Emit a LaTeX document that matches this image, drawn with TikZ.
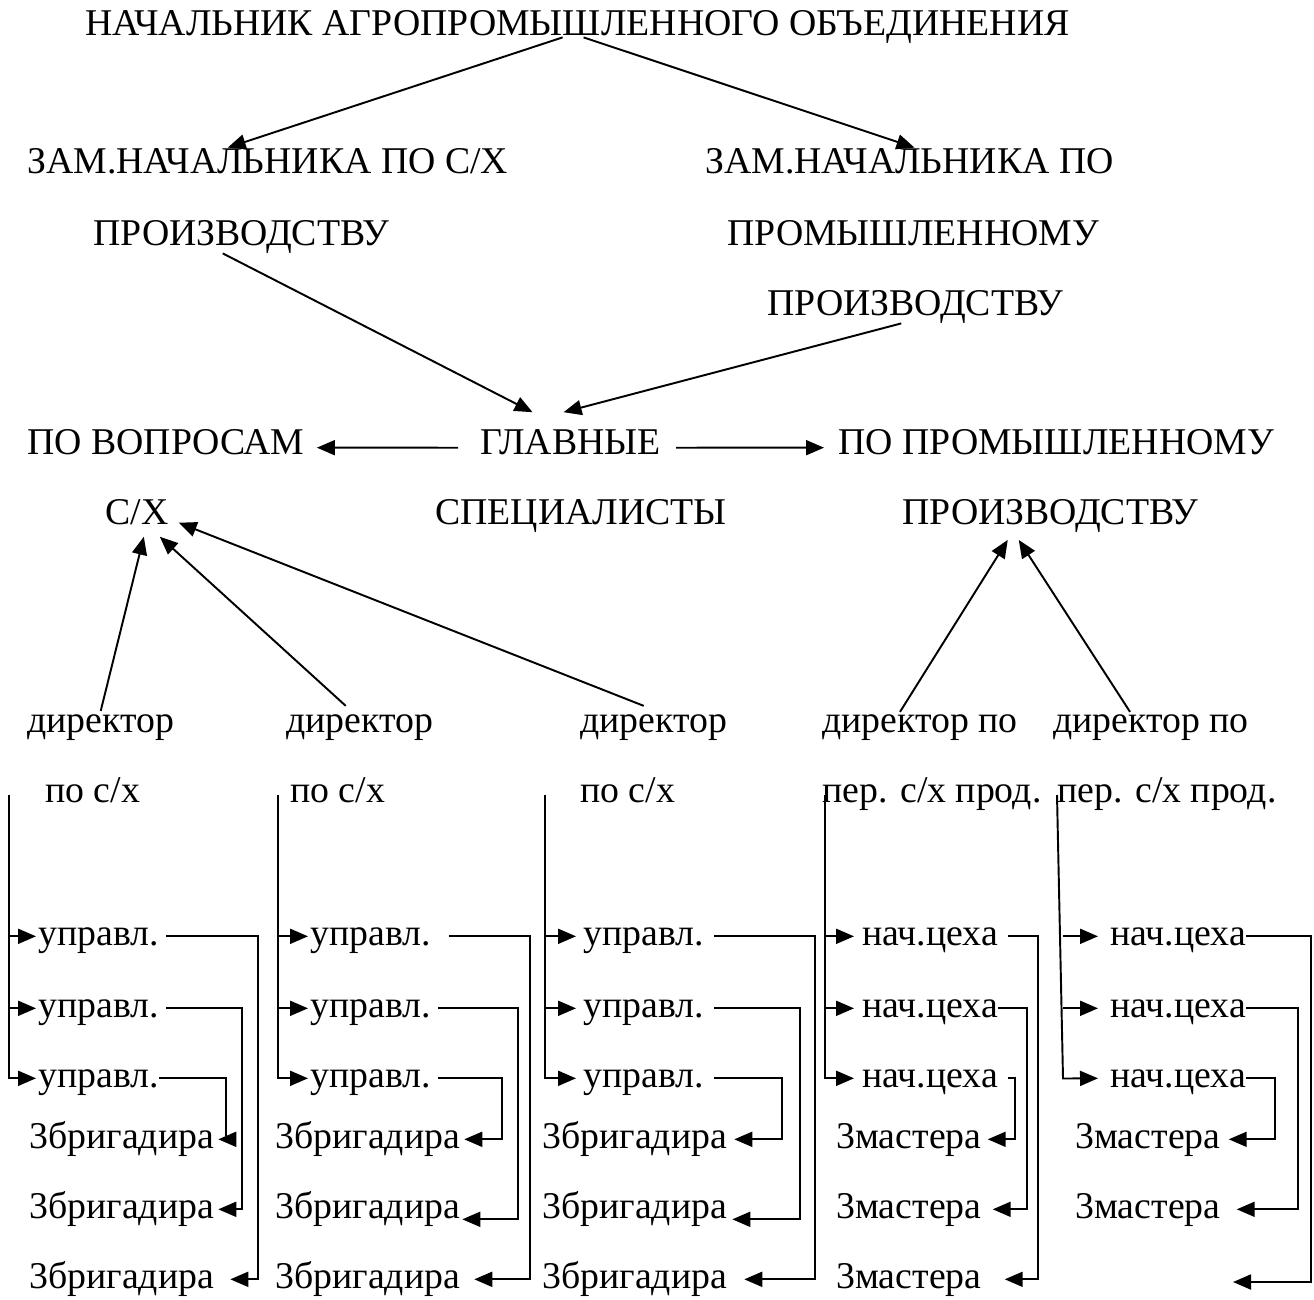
\documentclass[tikz,border=0pt]{standalone}
\usepackage{fontspec}
\setmainfont{LiberationSerif}[Extension=.ttf, UprightFont=*-Regular, BoldFont=*-Bold]
\usetikzlibrary{arrows.meta}
\tikzset{
  lbl/.style={anchor=base west, inner sep=0pt, font=\rmfamily\fontsize{21.5}{25}\selectfont},
  sub/.style={lbl, text height=9.9pt, text depth=0pt},
  arr/.style={-{Triangle[length=0.36cm,width=0.3cm]}, line width=1.1pt},
}

\begin{document}
\begin{tikzpicture}
  \useasboundingbox (0,0) rectangle (26.28,-25.98);
  % top levels
  \node[lbl] (nach) at (1.70,-0.70) {НАЧАЛЬНИК АГРОПРОМЫШЛЕННОГО ОБЪЕДИНЕНИЯ};
  \node[lbl] (zsx) at (0.54,-3.46) {ЗАМ.НАЧАЛЬНИКА ПО С/Х};
  \node[lbl] (zsxb) at (1.86,-4.90) {ПРОИЗВОДСТВУ};
  \node[lbl] (zpr) at (14.10,-3.46) {ЗАМ.НАЧАЛЬНИКА ПО};
  \node[lbl] (zprb) at (14.54,-4.90) {ПРОМЫШЛЕННОМУ};
  \node[lbl] (zprc) at (15.34,-6.30) {ПРОИЗВОДСТВУ};
  \node[lbl] (vopr) at (0.54,-9.08) {ПО ВОПРОСАМ};
  \node[lbl] (voprb) at (2.10,-10.48) {С/Х};
  \node[lbl] (glav) at (9.60,-9.08) {ГЛАВНЫЕ};
  \node[lbl] (glavb) at (8.70,-10.48) {СПЕЦИАЛИСТЫ};
  \node[lbl] (prom) at (16.76,-9.08) {ПО ПРОМЫШЛЕННОМУ};
  \node[lbl] (promb) at (18.04,-10.48) {ПРОИЗВОДСТВУ};

  \draw[arr] ([shift={(-0.3,0.12)}]nach.south) -- ([xshift=-0.8cm]zsx.north);
  \draw[arr] ([shift={(0.12,0.12)}]nach.south) -- ([xshift=0.1cm]zpr.north);
  \draw[arr] ([xshift=-0.37cm]zsxb.south) -- ([shift={(-0.76,0.33)}]glav.north);
  \draw[arr] ([xshift=-0.28cm]zprc.south) -- ([shift={(-0.14,0.33)}]glav.north);
  \draw[arr] ([shift={(-0.44,-0.12)}]glav.west) -- ([shift={(0.24,-0.12)}]vopr.east);
  \draw[arr] ([shift={(0.3,-0.12)}]glav.east) -- ([shift={(-0.28,-0.12)}]prom.west);

  % directors
  \node[lbl] (dir1) at (0.54,-14.64) {директор};
  \node[lbl] (dir1b) at (0.90,-16.04) {по с/х};
  \node[lbl] (dir2) at (5.72,-14.64) {директор};
  \node[lbl] (dir2b) at (5.80,-16.04) {по с/х};
  \node[lbl] (dir3) at (11.60,-14.64) {директор};
  \node[lbl] (dir3b) at (11.60,-16.04) {по с/х};
  \node[lbl] (dir4) at (16.44,-14.64) {директор по};
  \node[lbl] (dir4b) at (16.44,-16.04) {пер. с/х прод.};
  \node[lbl] (dir5) at (21.06,-14.64) {директор по};
  \node[lbl] (dir5b) at (21.14,-16.04) {пер. с/х прод.};

  \draw[arr] ([yshift=0.06cm]dir1.north) -- ([shift={(0.14,-0.24)}]voprb.south);
  \draw[arr] ([shift={(-0.28,0.16)}]dir2.north) -- ([shift={(0.46,-0.24)}]voprb.south);
  \draw[arr] ([shift={(-0.2,0.16)}]dir3.north) -- ([shift={(0.2,0.04)}]voprb.south east);
  \draw[arr] ([shift={(-0.4,0.04)}]dir4.north) -- ([shift={(-0.85,-0.15)}]promb.south);
  \draw[arr] ([shift={(-0.42,0.04)}]dir5.north) -- ([shift={(-0.63,-0.15)}]promb.south);

  % column 1
  \node[sub] (u11) at (0.76,-18.90) {управл.};
  \node[sub] (u12) at (0.76,-20.34) {управл.};
  \node[sub] (u13) at (0.76,-21.74) {управл.};
  \node[sub] (b11) at (0.58,-22.96) {3бригадира};
  \node[sub] (b12) at (0.58,-24.36) {3бригадира};
  \node[sub] (b13) at (0.58,-25.76) {3бригадира};
  \coordinate (t1) at (0.18,-15.90);
  \draw[arr] (t1) |- ([xshift=-0.04cm]u11.west);
  \draw[arr] (t1) |- ([xshift=-0.04cm]u12.west);
  \draw[arr] (t1) |- ([xshift=-0.04cm]u13.west);
  \draw[arr] ([xshift=0.14cm]u11.east) -- ++(1.84,0) |- ([xshift=0.32cm]b13.east);
  \draw[arr] ([xshift=0.14cm]u12.east) -- ++(1.52,0) |- ([xshift=0.08cm]b12.east);
  \draw[arr] (u13.east) -- ++(1.34,0) |- ([xshift=0.08cm]b11.east);

  % column 2
  \node[sub] (u21) at (6.20,-18.90) {управл.};
  \node[sub] (u22) at (6.20,-20.34) {управл.};
  \node[sub] (u23) at (6.20,-21.74) {управл.};
  \node[sub] (b21) at (5.50,-22.96) {3бригадира};
  \node[sub] (b22) at (5.50,-24.36) {3бригадира};
  \node[sub] (b23) at (5.50,-25.76) {3бригадира};
  \coordinate (t2) at (5.56,-15.90);
  \draw[arr] (t2) |- ([xshift=-0.04cm]u21.west);
  \draw[arr] (t2) |- ([xshift=-0.04cm]u22.west);
  \draw[arr] (t2) |- ([xshift=-0.04cm]u23.west);
  \draw[arr] ([xshift=0.36cm]u21.east) -- ++(1.62,0) |- ([xshift=0.28cm]b23.east);
  \draw[arr] ([xshift=0.14cm]u22.east) -- ++(1.6,0) |- ([shift={(0.04,-0.2)}]b22.east);
  \draw[arr] ([xshift=0.14cm]u23.east) -- ++(1.28,0) |- ([xshift=0.08cm]b21.east);

  % column 3
  \node[sub] (u31) at (11.66,-18.90) {управл.};
  \node[sub] (u32) at (11.66,-20.34) {управл.};
  \node[sub] (u33) at (11.66,-21.74) {управл.};
  \node[sub] (b31) at (10.84,-22.96) {3бригадира};
  \node[sub] (b32) at (10.84,-24.36) {3бригадира};
  \node[sub] (b33) at (10.84,-25.76) {3бригадира};
  \coordinate (t3) at (10.90,-15.90);
  \draw[arr] (t3) |- ([xshift=-0.14cm]u31.west);
  \draw[arr] (t3) |- ([xshift=-0.14cm]u32.west);
  \draw[arr] (t3) |- ([xshift=-0.14cm]u33.west);
  \draw[arr] ([xshift=0.2cm]u31.east) -- ++(2.02,0) |- ([xshift=0.34cm]b33.east);
  \draw[arr] ([xshift=0.2cm]u32.east) -- ++(1.72,0) |- ([shift={(0.1,-0.2)}]b32.east);
  \draw[arr] ([xshift=0.2cm]u33.east) -- ++(1.36,0) |- ([xshift=0.14cm]b31.east);

  % column 4
  \node[sub] (u41) at (17.24,-18.90) {нач.цеха};
  \node[sub] (u42) at (17.24,-20.34) {нач.цеха};
  \node[sub] (u43) at (17.24,-21.74) {нач.цеха};
  \node[sub] (b41) at (16.72,-22.96) {3мастера};
  \node[sub] (b42) at (16.72,-24.36) {3мастера};
  \node[sub] (b43) at (16.72,-25.76) {3мастера};
  \coordinate (t4) at (16.50,-15.90);
  \draw[arr] (t4) |- ([xshift=-0.16cm]u41.west);
  \draw[arr] (t4) |- ([xshift=-0.16cm]u42.west);
  \draw[arr] (t4) |- ([xshift=-0.16cm]u43.west);
  \draw[arr] ([xshift=0.2cm]u41.east) -- ++(0.6,0) |- ([xshift=0.46cm]b43.east);
  \draw[arr] (u42.east) -- ++(0.58,0) |- ([xshift=0.22cm]b42.east);
  \draw[arr] ([xshift=0.2cm]u43.east) -- ++(0.14,0) |- ([xshift=0.12cm]b41.east);

  % column 5
  \node[sub] (u51) at (22.20,-18.90) {нач.цеха};
  \node[sub] (u52) at (22.20,-20.34) {нач.цеха};
  \node[sub] (u53) at (22.20,-21.74) {нач.цеха};
  \node[sub] (b51) at (21.50,-22.96) {3мастера};
  \node[sub] (b52) at (21.50,-24.36) {3мастера};
  \coordinate (t5) at (21.14,-15.90);
  \coordinate (t5b) at (21.26,-21.57);
  \coordinate (e53) at (24.66,-25.64);
  \draw[arr] (t5) -- (t5b) -- ([xshift=-0.24cm]u53.west);
  \draw[arr] (u51.west -| t5b) -- ([xshift=-0.24cm]u51.west);
  \draw[arr] (u52.west -| t5b) -- ([xshift=-0.24cm]u52.west);
  \draw[arr] (u51.east) -- ++(1.3,0) |- (e53);
  \draw[arr] (u52.east) -- ++(1.04,0) |- ([xshift=0.32cm]b52.east);
  \draw[arr] (u53.east) -- ++(0.58,0) |- ([xshift=0.16cm]b51.east);
\end{tikzpicture}
\end{document}
